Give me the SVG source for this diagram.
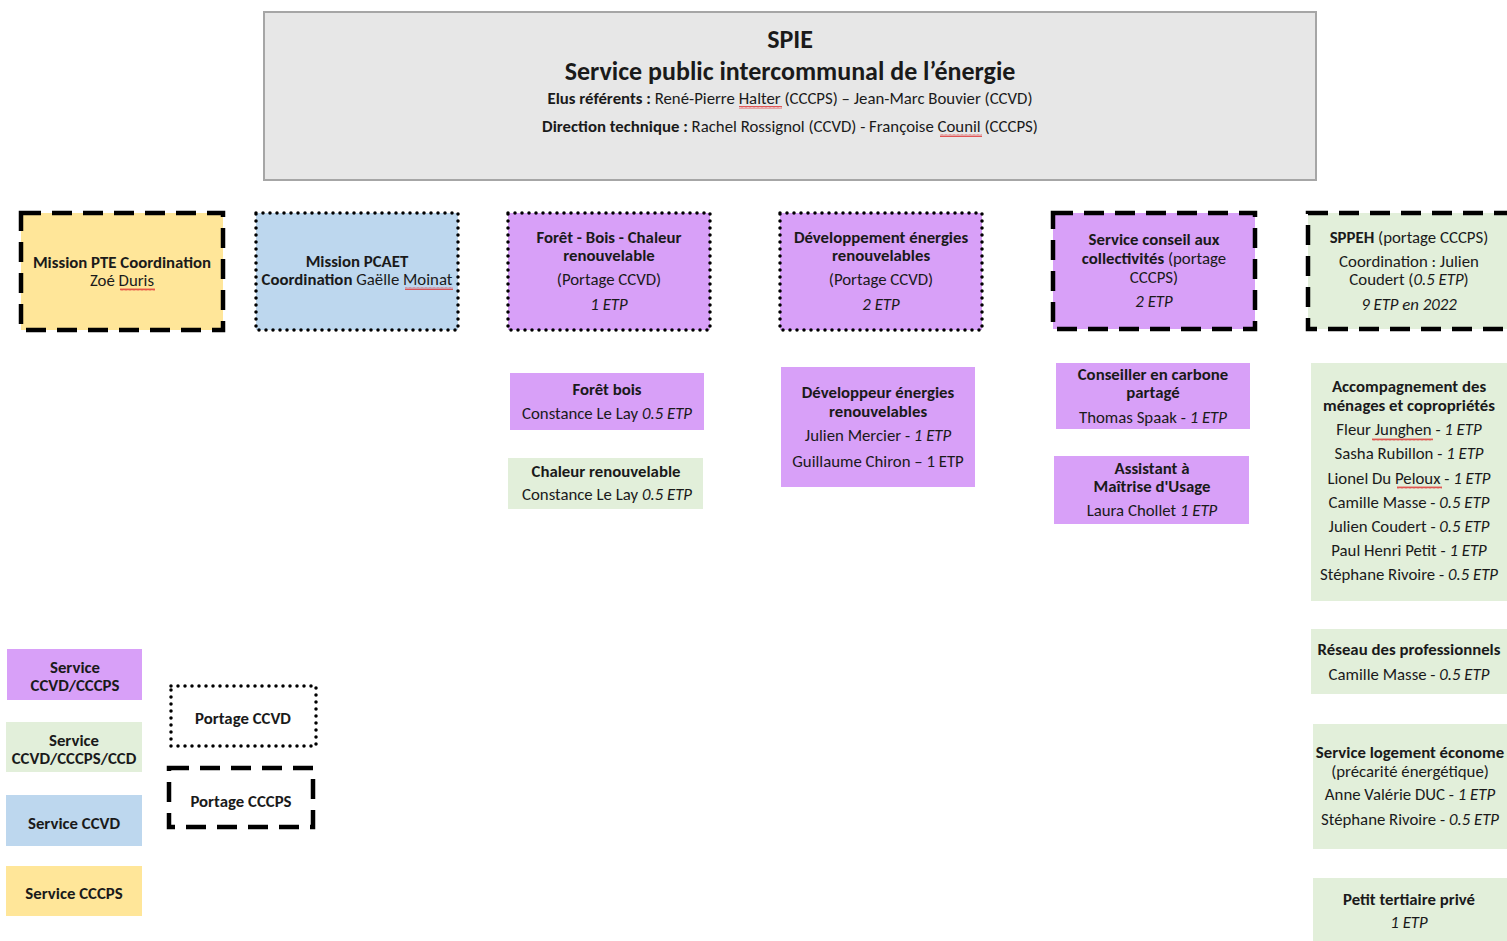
<svg xmlns="http://www.w3.org/2000/svg" width="1507" height="941" viewBox="0 0 1507 941">
<style>
text{font-family:Carlito,Lato,"Liberation Sans",sans-serif;font-size:16.8px;fill:#1a1a1a;text-anchor:middle}
.b{font-weight:bold}
.i{font-style:italic}
.h{font-size:26px;font-weight:bold}
.yel{fill:#ffe699}.blu{fill:#bdd7ee}.pur{fill:#d8a0f8}.grn{fill:#e2efda}
.dash{stroke:#000;stroke-width:4.5;stroke-dasharray:20 11}
.dot{stroke:#000;stroke-width:3.5;stroke-dasharray:0 7;stroke-linecap:round}
</style>
<defs>
<pattern id="wv" width="4" height="3" patternUnits="userSpaceOnUse"><path d="M0 2.5 L1 0.5 L2 2.5 L3 0.5 L4 2.5" fill="none" stroke="#e03030" stroke-width="0.8"/></pattern>
</defs>

<g id="header">
<rect x="264" y="12" width="1052" height="168" fill="#e7e7e7" stroke="#a6a6a6" stroke-width="2"/>
<text x="790" y="48" class="h">SPIE</text>
<text x="790" y="80" class="h">Service public intercommunal de l’énergie</text>
<text x="790" y="104"><tspan class="b">Elus référents : </tspan>René-Pierre Halter (CCCPS) – Jean-Marc Bouvier (CCVD)</text>
<text x="790" y="132"><tspan class="b">Direction technique : </tspan> Rachel Rossignol (CCVD) - Françoise Counil (CCCPS)</text>
<rect x="739" y="106" width="43" height="3" fill="url(#wv)"/>
<rect x="940" y="134" width="42" height="3" fill="url(#wv)"/>
</g>

<g id="mission-pte">
<rect x="21" y="213" width="202" height="117" class="yel dash"/>
<text x="122" y="268" class="b">Mission PTE Coordination</text>
<text x="122" y="286">Zoé Duris</text>
<rect x="120" y="288" width="35" height="3" fill="url(#wv)"/>
</g>

<g id="mission-pcaet">
<rect x="256" y="213" width="202" height="117" class="blu dot"/>
<text x="357" y="267" class="b">Mission PCAET</text>
<text x="357" y="285"><tspan class="b">Coordination</tspan> Gaëlle Moinat</text>
<rect x="405" y="287" width="48" height="3" fill="url(#wv)"/>
</g>

<g id="foret-bois-chaleur">
<rect x="508" y="213" width="202" height="117" class="pur dot"/>
<text x="609" y="243" class="b">Forêt - Bois - Chaleur</text>
<text x="609" y="261" class="b">renouvelable</text>
<text x="609" y="285">(Portage CCVD)</text>
<text x="609" y="310" class="i">1 ETP</text>
</g>

<g id="dev-energies">
<rect x="780" y="213" width="202" height="117" class="pur dot"/>
<text x="881" y="243" class="b">Développement énergies</text>
<text x="881" y="261" class="b">renouvelables</text>
<text x="881" y="285">(Portage CCVD)</text>
<text x="881" y="310" class="i">2 ETP</text>
</g>

<g id="service-conseil">
<rect x="1053" y="213" width="202" height="116" class="pur dash"/>
<text x="1154" y="245" class="b">Service conseil aux</text>
<text x="1154" y="264"><tspan class="b">collectivités</tspan> (portage</text>
<text x="1154" y="283">CCCPS)</text>
<text x="1154" y="307" class="i">2 ETP</text>
</g>

<g id="sppeh">
<rect x="1308" y="213" width="210" height="116" class="grn dash"/>
<text x="1409" y="243"><tspan class="b">SPPEH</tspan> (portage CCCPS)</text>
<text x="1409" y="267">Coordination : Julien</text>
<text x="1409" y="285">Coudert (<tspan class="i">0.5 ETP</tspan>)</text>
<text x="1409" y="310" class="i">9 ETP en 2022</text>
</g>

<g id="foret-bois">
<rect x="510" y="373" width="194" height="57" class="pur"/>
<text x="607" y="395" class="b">Forêt bois</text>
<text x="607" y="419">Constance Le Lay <tspan class="i">0.5 ETP</tspan></text>
</g>

<g id="chaleur-renouvelable">
<rect x="508" y="458" width="195" height="51" class="grn"/>
<text x="606" y="477" class="b">Chaleur renouvelable</text>
<text x="607" y="500">Constance Le Lay <tspan class="i">0.5 ETP</tspan></text>
</g>

<g id="developpeur">
<rect x="781" y="367" width="194" height="120" class="pur"/>
<text x="878" y="398" class="b">Développeur énergies</text>
<text x="878" y="417" class="b">renouvelables</text>
<text x="878" y="441">Julien Mercier - <tspan class="i">1 ETP</tspan></text>
<text x="878" y="467">Guillaume Chiron – 1 ETP</text>
</g>

<g id="conseiller-carbone">
<rect x="1056" y="363" width="194" height="66" class="pur"/>
<text x="1153" y="380" class="b">Conseiller en carbone</text>
<text x="1153" y="398" class="b">partagé</text>
<text x="1153" y="423">Thomas Spaak - <tspan class="i">1 ETP</tspan></text>
</g>

<g id="assistant-mou">
<rect x="1054" y="456" width="195" height="68" class="pur"/>
<text x="1152" y="474" class="b">Assistant à</text>
<text x="1152" y="492" class="b">Maîtrise d'Usage</text>
<text x="1152" y="516">Laura Chollet <tspan class="i">1 ETP</tspan></text>
</g>

<g id="accompagnement">
<rect x="1311" y="363" width="196" height="238" class="grn"/>
<text x="1409" y="392" class="b">Accompagnement des</text>
<text x="1409" y="411" class="b">ménages et copropriétés</text>
<text x="1409" y="435">Fleur Junghen - <tspan class="i">1 ETP</tspan></text>
<text x="1409" y="459">Sasha Rubillon - <tspan class="i">1 ETP</tspan></text>
<text x="1409" y="484">Lionel Du Peloux - <tspan class="i">1 ETP</tspan></text>
<text x="1409" y="508">Camille Masse - <tspan class="i">0.5 ETP</tspan></text>
<text x="1409" y="532">Julien Coudert - <tspan class="i">0.5 ETP</tspan></text>
<text x="1409" y="556">Paul Henri Petit - <tspan class="i">1 ETP</tspan></text>
<text x="1409" y="580">Stéphane Rivoire - <tspan class="i">0.5 ETP</tspan></text>
<rect x="1372" y="438" width="61" height="3" fill="url(#wv)"/>
<rect x="1397" y="486" width="45" height="3" fill="url(#wv)"/>
</g>

<g id="reseau-pro">
<rect x="1311" y="629" width="196" height="65" class="grn"/>
<text x="1409" y="655" class="b">Réseau des professionnels</text>
<text x="1409" y="680">Camille Masse - <tspan class="i">0.5 ETP</tspan></text>
</g>

<g id="slime">
<rect x="1313" y="724" width="194" height="125" class="grn"/>
<text x="1410" y="758" class="b">Service logement économe</text>
<text x="1410" y="777">(précarité énergétique)</text>
<text x="1410" y="800">Anne Valérie DUC - <tspan class="i">1 ETP</tspan></text>
<text x="1410" y="825">Stéphane Rivoire - <tspan class="i">0.5 ETP</tspan></text>
</g>

<g id="petit-tertiaire">
<rect x="1313" y="878" width="194" height="63" class="grn"/>
<text x="1409" y="905" class="b">Petit tertiaire privé</text>
<text x="1409" y="928" class="i">1 ETP</text>
</g>

<g id="legend-ccvd-cccps">
<rect x="7" y="649" width="135" height="51" class="pur"/>
<text x="75" y="673" class="b">Service</text>
<text x="75" y="691" class="b">CCVD/CCCPS</text>
</g>
<g id="legend-ccd">
<rect x="6" y="722" width="136" height="50" class="grn"/>
<text x="74" y="746" class="b">Service</text>
<text x="74" y="764" class="b">CCVD/CCCPS/CCD</text>
</g>
<g id="legend-ccvd">
<rect x="6" y="795" width="136" height="51" class="blu"/>
<text x="74" y="829" class="b">Service CCVD</text>
</g>
<g id="legend-cccps">
<rect x="6" y="866" width="136" height="50" class="yel"/>
<text x="74" y="899" class="b">Service CCCPS</text>
</g>
<g id="legend-portage-ccvd">
<rect x="171" y="686" width="145" height="60" fill="none" class="dot"/>
<text x="243" y="724" class="b">Portage CCVD</text>
</g>
<g id="legend-portage-cccps">
<rect x="169" y="768" width="144" height="59" fill="none" class="dash"/>
<text x="241" y="807" class="b">Portage CCCPS</text>
</g>

<g id="connectors"></g>
</svg>
